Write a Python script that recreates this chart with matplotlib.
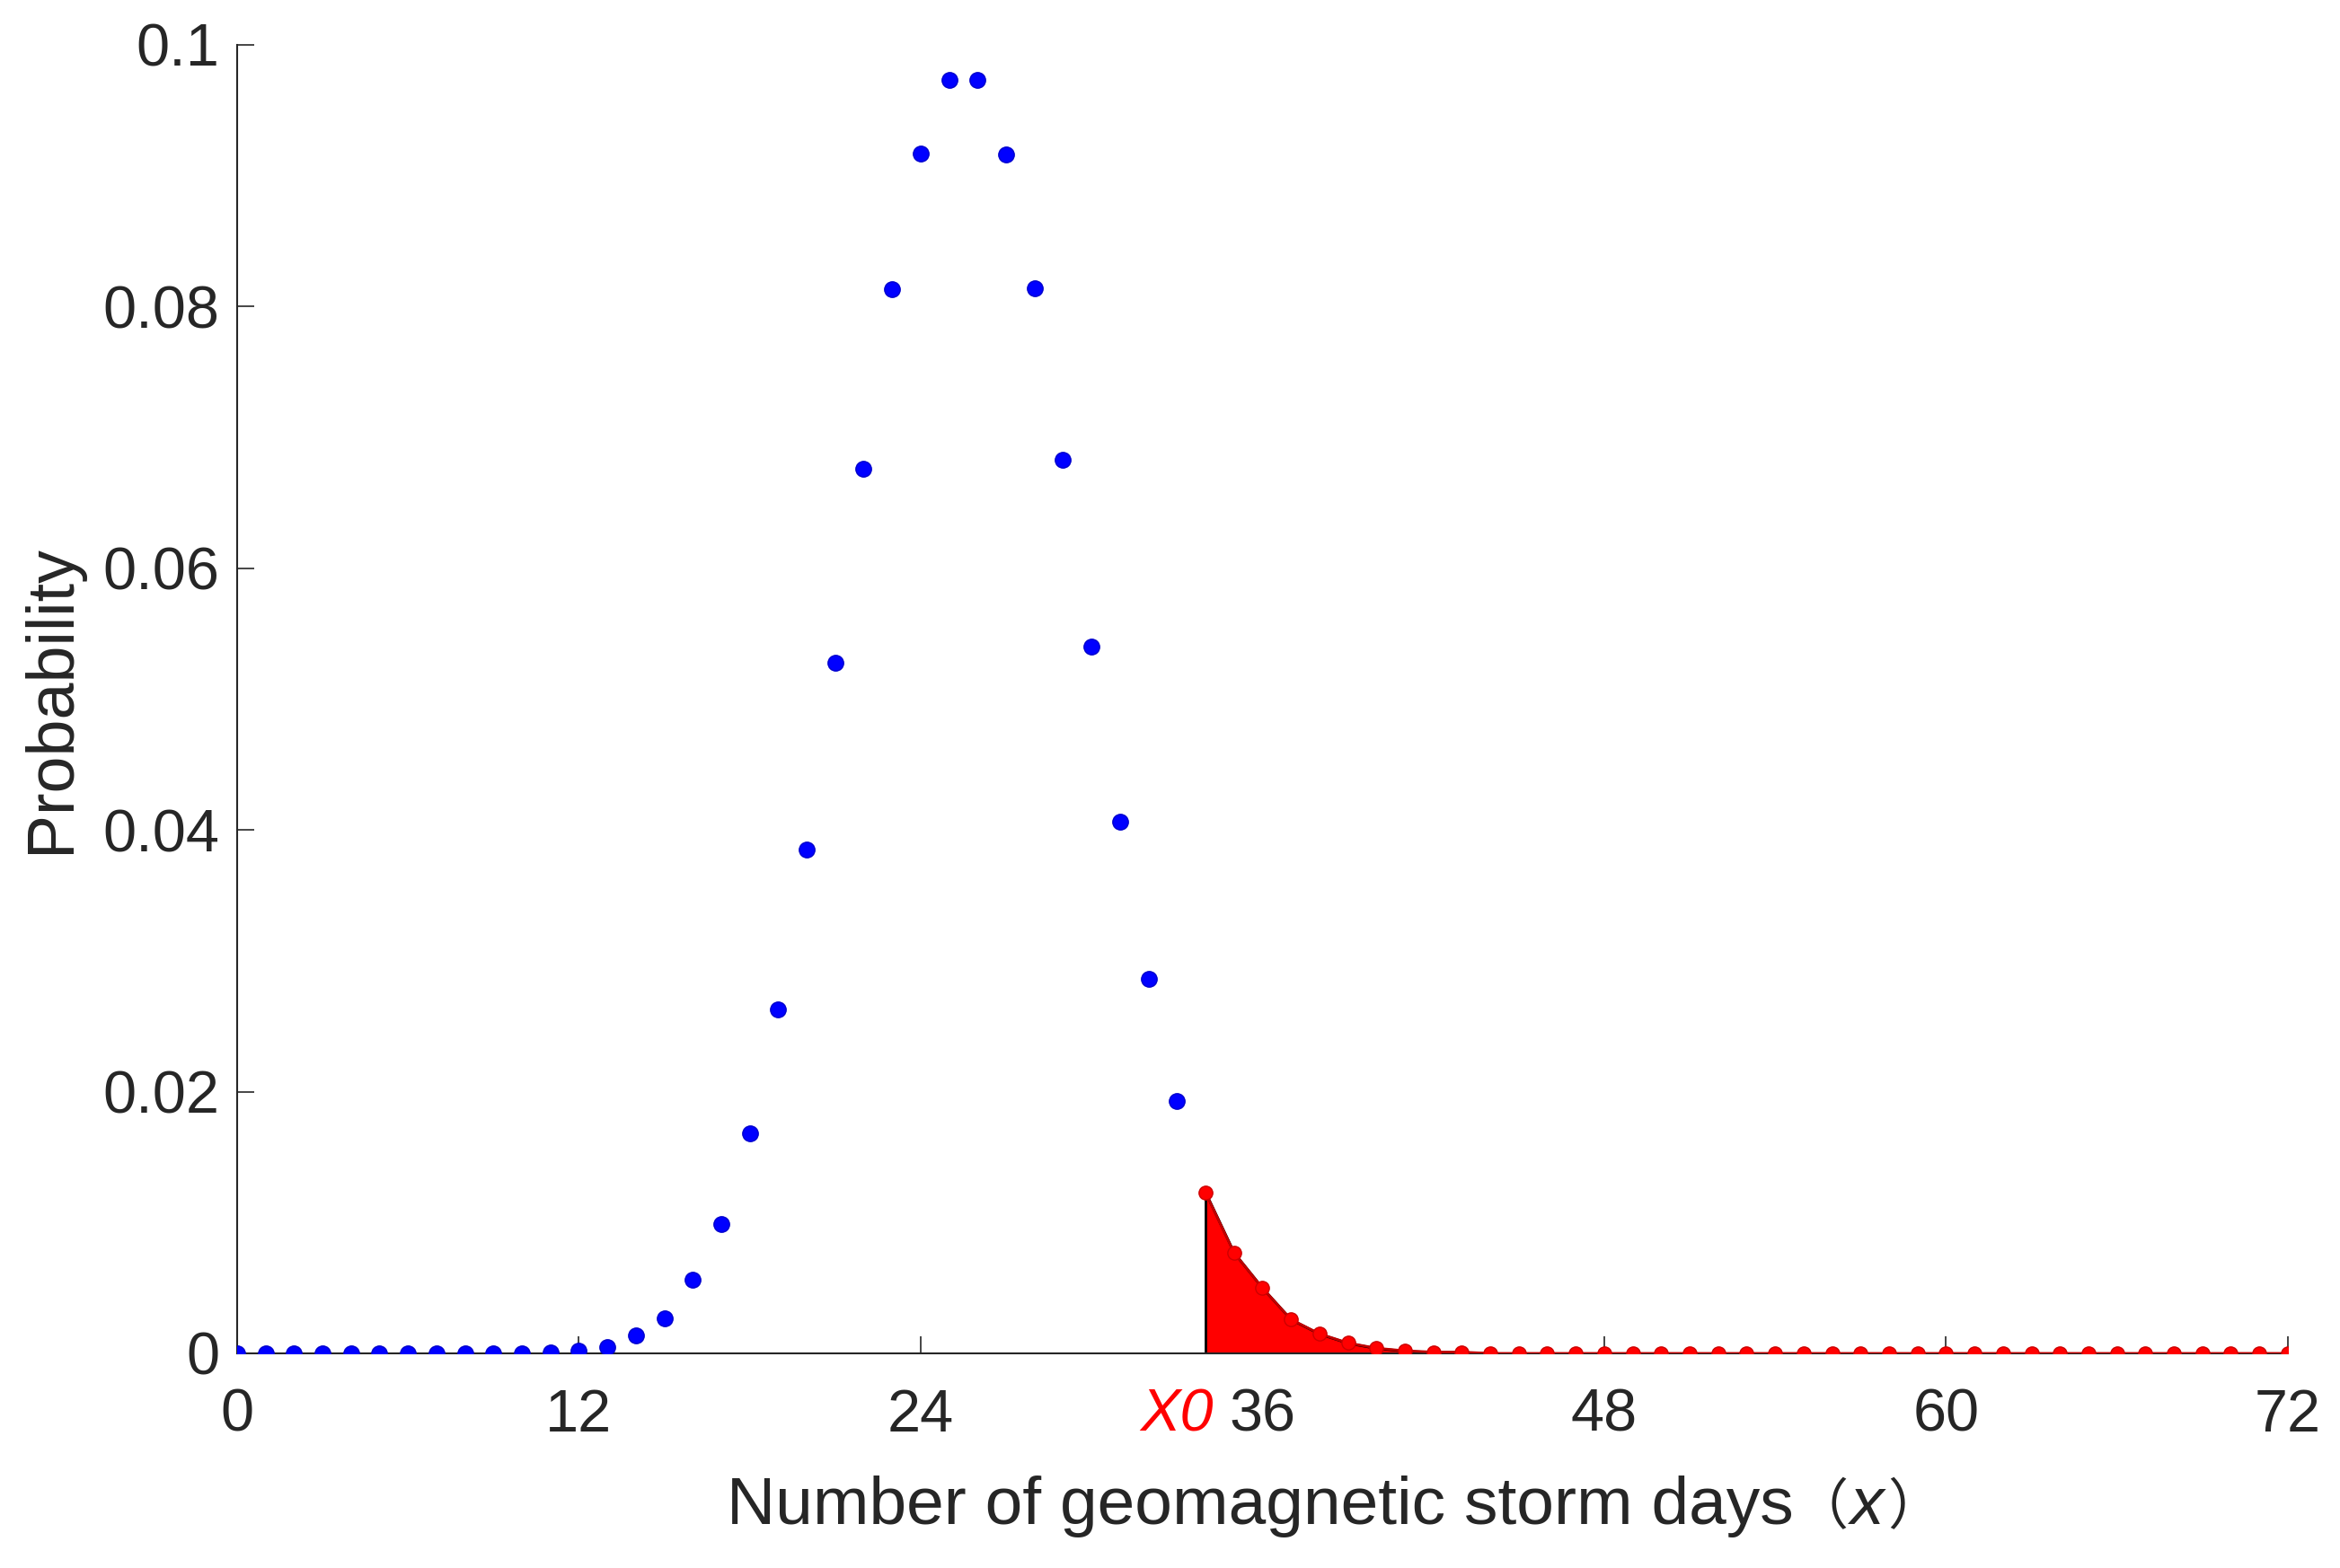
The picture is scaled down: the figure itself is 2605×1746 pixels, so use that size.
import matplotlib
matplotlib.use("Agg")
import matplotlib.pyplot as plt
import numpy as np

plt.rcParams['font.family'] = ['Liberation Sans', 'Noto Sans CJK SC', 'DejaVu Sans']

# storm days below X0 (blue) and the tail from X0 on (red)
days_low = list(range(0, 34))
prob_low = [0, 0, 0, 0, 0, 0, 0, 0, 0, 0, 0, 0.0001, 0.0002, 0.0005, 0.0014, 0.0027,
            0.0056, 0.0099, 0.0168, 0.0263, 0.0385, 0.0528, 0.0676, 0.0813, 0.0917,
            0.0973, 0.0973, 0.0916, 0.0814, 0.0683, 0.0540, 0.0406, 0.0286, 0.0193]
days_tail = list(range(34, 73))
prob_tail = [0.0123, 0.0077, 0.0050, 0.0026, 0.0015, 0.0008, 0.0004, 0.0002, 0.0001,
             0.0001] + [0] * 29

xticks = [0, 12, 24, 33, 36, 48, 60, 72]
xtick_labels = ['0', '12', '24', 'X0', '36', '48', '60', '72']
yticks = [0, 0.02, 0.04, 0.06, 0.08, 0.1]
ytick_labels = ['0', '0.02', '0.04', '0.06', '0.08', '0.1']

fg = '#262626'
fig = plt.figure(figsize=(26.05, 17.46), dpi=100)
ax = fig.add_axes([0.1013, 0.1369, 0.8764, 0.8345])

ax.fill_between(days_tail, prob_tail, 0, facecolor='red', edgecolor='black', linewidth=2, zorder=2)
ax.plot(days_tail, prob_tail, '-', color='#c00000', linewidth=2, marker='o', markersize=11,
        markerfacecolor='red', markeredgecolor='#cc0000', zorder=3)
ax.plot(days_low, prob_low, 'o', color='blue', markersize=12.5, markeredgecolor='#0000cc', zorder=3)

ax.set_xlim(0, 72)
ax.set_ylim(0, 0.1)
ax.set_xticks(xticks)
ax.set_xticklabels(xtick_labels)
ax.set_yticks(yticks)
ax.set_yticklabels(ytick_labels)
ax.spines['top'].set_visible(False)
ax.spines['right'].set_visible(False)
for s in ['left', 'bottom']:
    ax.spines[s].set_color(fg)
    ax.spines[s].set_linewidth(1.5)
ax.tick_params(direction='in', length=14, width=1.2, colors=fg, labelsize=48)
ax.tick_params(axis='x', pad=28)
ax.tick_params(axis='y', pad=14)

# X0 marker label: red italic, no tick line
x0_tick = ax.xaxis.get_major_ticks()[3]
x0_tick.tick1line.set_visible(False)
x0_tick.label1.set_color('red')
x0_tick.label1.set_fontstyle('italic')

ax.set_ylabel('Probability', fontsize=53, color=fg)
ax.yaxis.set_label_coords(-0.0753, 0.5)

# x label built from pieces so the x can be italic
fig.canvas.draw()
rend = fig.canvas.get_renderer()
W = fig.bbox.width
parts = [('Number of geomagnetic storm days', 'normal', 54, 0),
         ('（', 'normal', 44, 0),
         ('x', 'italic', 54, 2),
         ('）', 'normal', 44, 4)]
xpos = 809
for txt, style, size, shift in parts:
    t = fig.text((xpos + shift) / W, 0.028, txt, fontsize=size, color=fg, fontstyle=style,
                 ha='left', va='baseline')
    bb = t.get_window_extent(renderer=rend)
    xpos = bb.x1

fig.savefig('out.png', dpi=100)
